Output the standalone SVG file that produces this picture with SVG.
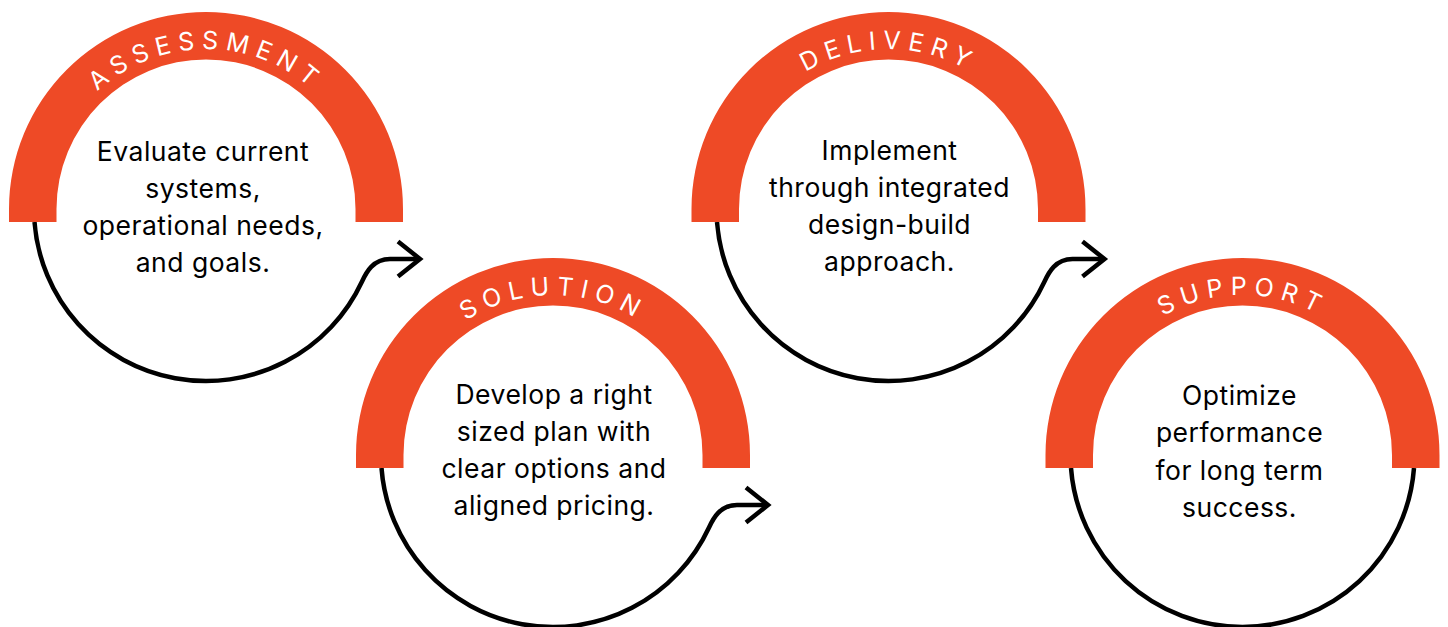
<svg xmlns="http://www.w3.org/2000/svg" width="1448" height="627" viewBox="0 0 1448 627">
  <defs>
    <path id="band" d="M-197,13 V0 A197,197 0 0 1 197,0 V13 H149.5 V0 A149.5,149.5 0 0 0 -149.5,0 V13 Z"/>
    <path id="labelArc" d="M-160,0 A160,160 0 0 1 160,0"/>
  </defs>
  <style>
    .band { fill: #EE4A26; }
    .line { fill: none; stroke: #000; stroke-width: 4.5; stroke-linejoin: miter; }
    .label { font-family: Inter, "Liberation Sans", sans-serif; font-size: 25px; fill: #fff; letter-spacing: 7px; }
    .body { font-family: Inter, "Liberation Sans", sans-serif; font-size: 26.5px; fill: #000; text-anchor: middle; letter-spacing: 0.5px; }
  </style>
  <rect width="1448" height="627" fill="#fff"/>

  <g id="connectors">
    <g transform="translate(206,209)">
      <path class="line" d="M-171.5,13 A172,172 0 0 0 155.9,72.7 C160.2,63.4 167,50 184,50 L214,50"/>
      <path class="line" d="M192,32.5 L214,50 L192,67.5"/>
    </g>
    <g transform="translate(553,455)">
      <path class="line" d="M-171.5,13 A172,172 0 0 0 155.9,72.7 C160.2,63.4 167,50 184,50 L215,50"/>
      <path class="line" d="M193,32.5 L215,50 L193,67.5"/>
    </g>
    <g transform="translate(888.5,209)">
      <path class="line" d="M-171.5,13 A172,172 0 0 0 155.9,72.7 C160.2,63.4 167,50 184,50 L216,50"/>
      <path class="line" d="M194,32.5 L216,50 L194,67.5"/>
    </g>
    <g transform="translate(1242.5,455)">
      <path class="line" d="M-171.5,13 A172,172 0 0 0 171.5,13"/>
    </g>
  </g>

  <g id="assessment" transform="translate(206,209)">
    <use href="#band" class="band"/>
    <text class="label"><textPath href="#labelArc" startOffset="50%" text-anchor="middle">ASSESSMENT</textPath></text>
    <text class="body" x="-3" y="-48">Evaluate current</text>
    <text class="body" x="-3" y="-11">systems,</text>
    <text class="body" x="-3" y="26">operational needs,</text>
    <text class="body" x="-3" y="63">and goals.</text>
  </g>

  <g id="solution" transform="translate(553,455)">
    <use href="#band" class="band"/>
    <text class="label"><textPath href="#labelArc" startOffset="50%" text-anchor="middle">SOLUTION</textPath></text>
    <text class="body" x="1" y="-51">Develop a right</text>
    <text class="body" x="1" y="-14">sized plan with</text>
    <text class="body" x="1" y="23">clear options and</text>
    <text class="body" x="1" y="60">aligned pricing.</text>
  </g>

  <g id="delivery" transform="translate(888.5,209)">
    <use href="#band" class="band"/>
    <text class="label"><textPath href="#labelArc" startOffset="50%" text-anchor="middle">DELIVERY</textPath></text>
    <text class="body" x="1" y="-49">Implement</text>
    <text class="body" x="1" y="-12">through integrated</text>
    <text class="body" x="1" y="25">design-build</text>
    <text class="body" x="1" y="62">approach.</text>
  </g>

  <g id="support" transform="translate(1242.5,455)">
    <use href="#band" class="band"/>
    <text class="label"><textPath href="#labelArc" startOffset="50%" text-anchor="middle">SUPPORT</textPath></text>
    <text class="body" x="-3" y="-50">Optimize</text>
    <text class="body" x="-3" y="-13">performance</text>
    <text class="body" x="-3" y="25">for long term</text>
    <text class="body" x="-3" y="62">success.</text>
  </g>
</svg>
